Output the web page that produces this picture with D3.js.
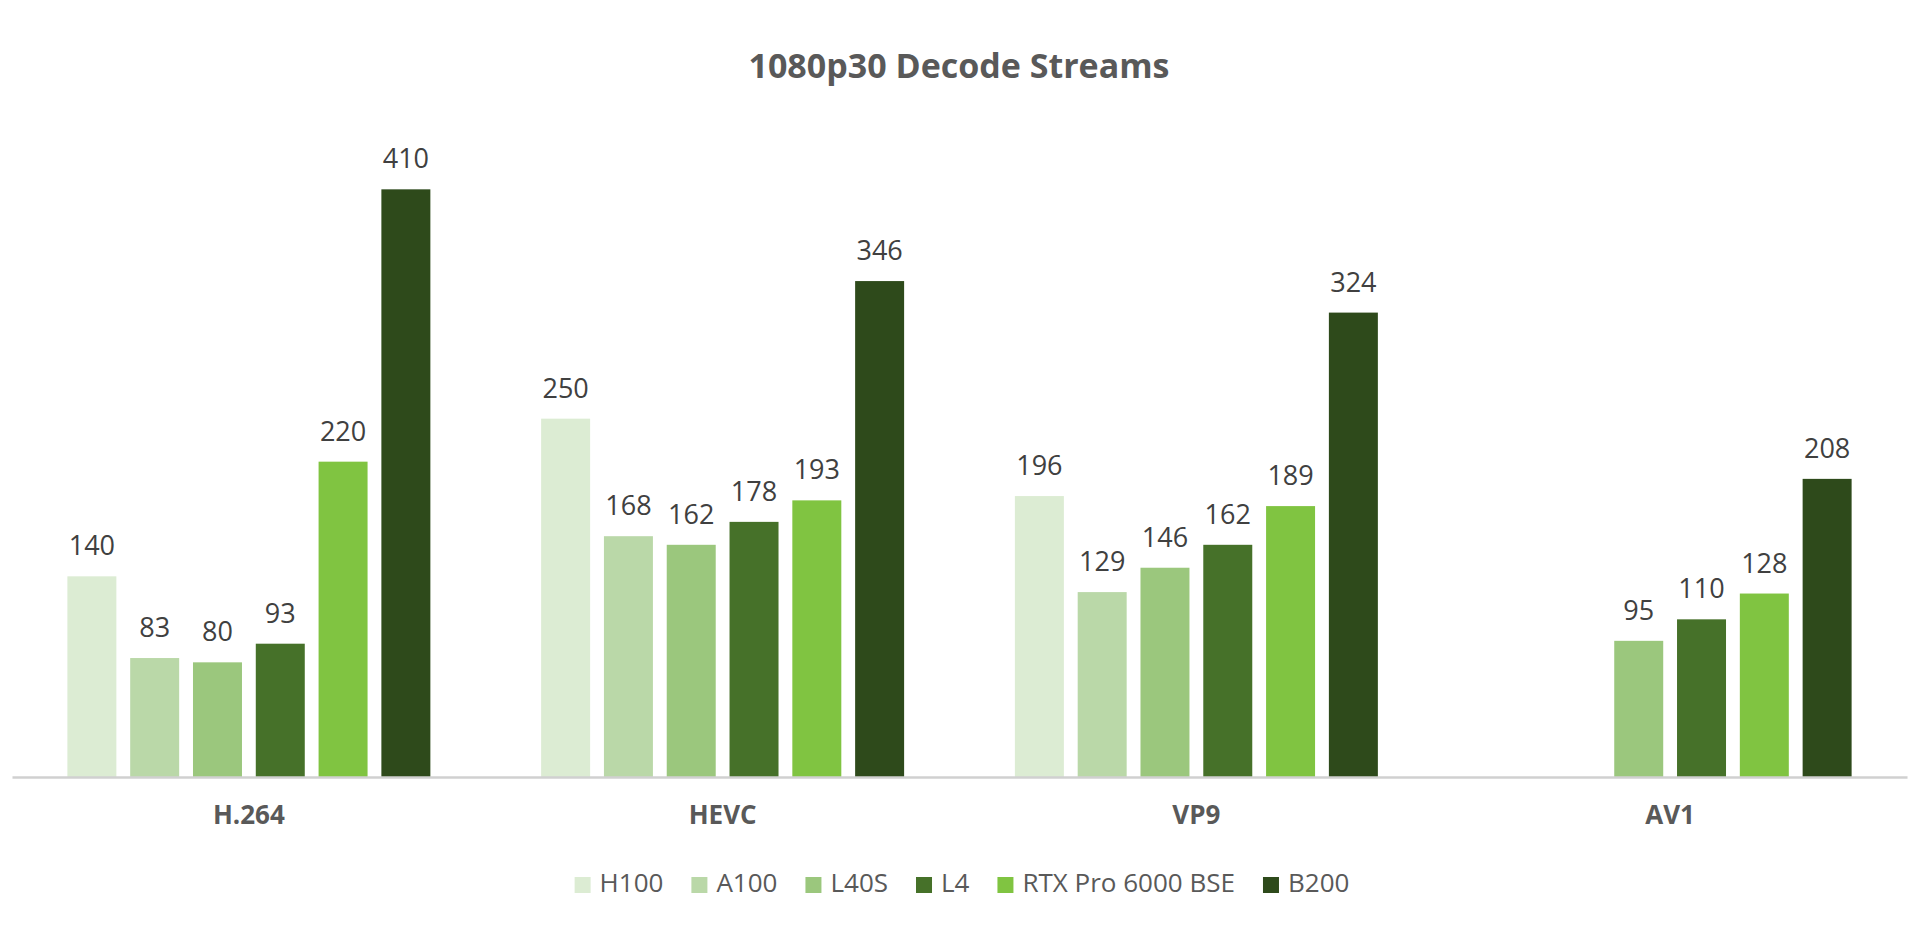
<!DOCTYPE html>
<html>
<head>
<meta charset="utf-8">
<script src="https://cdn.jsdelivr.net/npm/d3@7"></script>
<style>
  html, body { margin: 0; padding: 0; background: #ffffff; }
  svg { display: block; }
</style>
</head>
<body>
<svg id="chart" width="1920" height="940"></svg>
<script>
const categories = ["H.264", "HEVC", "VP9", "AV1"];
const seriesNames = ["H100", "A100", "L40S", "L4", "RTX Pro 6000 BSE", "B200"];
const seriesColors = ["#dcecd3", "#bad8a8", "#9bc77d", "#467129", "#80c441", "#2e4a1b"];
const H100 = [140, 250, 196, null];
const A100 = [83, 168, 129, null];
const L40S = [80, 162, 146, 95];
const L4 = [93, 178, 162, 110];
const RTX = [220, 193, 189, 128];
const B200 = [410, 346, 324, 208];
const seriesValues = [H100, A100, L40S, L4, RTX, B200];
const titleText = "1080p30 Decode Streams";

const FONT = "'Open Sans', 'Noto Sans', sans-serif";
const svg = d3.select("#chart");

const plotLeft = 12, plotRight = 1907, baseline = 777, plotTop = 132;

const x0 = d3.scaleBand().domain(categories).range([plotLeft, plotRight]).paddingInner(0).paddingOuter(0);
const x1 = d3.scaleBand().domain(seriesNames).range([0, x0.bandwidth()]).paddingInner(0.22).paddingOuter(0.882);
const y = d3.scaleLinear().domain([0, 450]).range([baseline, plotTop]);

// title
svg.append("text")
  .attr("x", 959).attr("y", 78)
  .attr("text-anchor", "middle")
  .attr("font-family", FONT).attr("font-weight", 700).attr("font-size", 34)
  .attr("fill", "#595959")
  .text(titleText);

// flatten data
const data = [];
categories.forEach((c, ci) => {
  seriesNames.forEach((s, si) => {
    const v = seriesValues[si][ci];
    if (v !== null && v !== undefined) data.push({ cat: c, series: s, value: v, color: seriesColors[si] });
  });
});

const g = svg.append("g");
g.selectAll("rect.bar").data(data).enter().append("rect")
  .attr("class", "bar")
  .attr("x", d => x0(d.cat) + x1(d.series))
  .attr("width", x1.bandwidth())
  .attr("y", d => y(d.value))
  .attr("height", d => y(0) - y(d.value))
  .attr("fill", d => d.color);

g.selectAll("text.val").data(data).enter().append("text")
  .attr("class", "val")
  .attr("x", d => x0(d.cat) + x1(d.series) + x1.bandwidth() / 2)
  .attr("y", d => y(d.value) - 21)
  .attr("text-anchor", "middle")
  .attr("font-family", FONT).attr("font-size", 27)
  .attr("fill", "#404040")
  .text(d => d.value);

// axis
const xAxis = d3.axisBottom(x0).tickSize(0).tickPadding(0);
const axG = svg.append("g").attr("transform", `translate(0,${baseline})`).call(xAxis);
axG.select(".domain").attr("stroke", "#d0d0d0").attr("stroke-width", 2.5);
axG.selectAll(".tick text")
  .attr("y", 47).attr("dy", 0)
  .attr("font-family", FONT).attr("font-weight", 700).attr("font-size", 26)
  .attr("fill", "#595959");

// legend
const legend = svg.append("g");
const items = legend.selectAll("g.item").data(seriesNames).enter().append("g").attr("class", "item");
items.append("rect").attr("width", 16).attr("height", 16).attr("y", -15)
  .attr("fill", (d, i) => seriesColors[i]);
items.append("text").attr("x", 25).attr("y", 0)
  .attr("font-family", FONT).attr("font-size", 26).attr("fill", "#595959")
  .text(d => d);
let pos = 0;
const positions = [];
items.each(function () {
  const w = d3.select(this).select("text").node().getComputedTextLength();
  positions.push(pos);
  pos += 25 + w + 28;
});
const totalW = pos - 28;
const startX = 962 - totalW / 2;
items.attr("transform", (d, i) => `translate(${startX + positions[i]},892)`);
</script>
</body>
</html>
